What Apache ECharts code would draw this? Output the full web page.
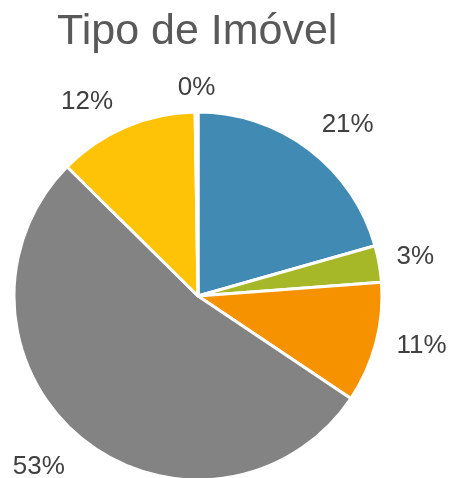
<!DOCTYPE html>
<html>
<head>
<meta charset="utf-8">
<script src="https://cdn.jsdelivr.net/npm/echarts@6/dist/echarts.min.js"></script>
<style>
  html, body { margin: 0; padding: 0; background: #fff; }
  #chart { width: 452px; height: 478px; }
</style>
</head>
<body>
<div id="chart"></div>
<script>
var categories = ['Apartamento', 'Casa de vila', 'Cobertura', 'Casa', 'Sala comercial', 'Outros'];
var values = [20.6, 3.2, 10.6, 53.0, 12.35, 0.25];
var colors = ['#418ab3', '#a6b727', '#f69200', '#838383', '#fec306', '#df5327'];

// label placement tweaks per slice (distance out from the pie, shift along the text)
var labelLength = [31, 39, 12, 36, 27, 24];
var labelShift = [-6, -21, 9, -6, 2, -19];

var myChart = echarts.init(document.getElementById('chart'));
var option = {
    animation: false,
    color: colors,
    title: {
        text: 'Tipo de Imóvel',
        left: 52,
        top: 6,
        textStyle: {
            fontFamily: 'Liberation Sans',
            fontSize: 43,
            fontWeight: 'normal',
            color: '#595959'
        }
    },
    series: [
        {
            name: 'Tipo de Imóvel',
            type: 'pie',
            center: [198, 296],
            radius: 184,
            startAngle: 90,
            clockwise: true,
            percentPrecision: 0,
            avoidLabelOverlap: false,
            itemStyle: {
                borderColor: '#fff',
                borderWidth: 3
            },
            label: {
                show: true,
                position: 'outside',
                formatter: '{d}%',
                fontFamily: 'Liberation Sans',
                fontSize: 26,
                color: '#404040'
            },
            labelLine: {
                show: false,
                length: 26,
                length2: 0
            },
            emphasis: { disabled: true },
            data: categories.map(function (c, i) {
                return {
                    name: c,
                    value: values[i],
                    label: { distanceToLabelLine: labelShift[i] },
                    labelLine: { show: false, length: labelLength[i], length2: 0 }
                };
            })
        }
    ]
};
myChart.setOption(option);
</script>
</body>
</html>
